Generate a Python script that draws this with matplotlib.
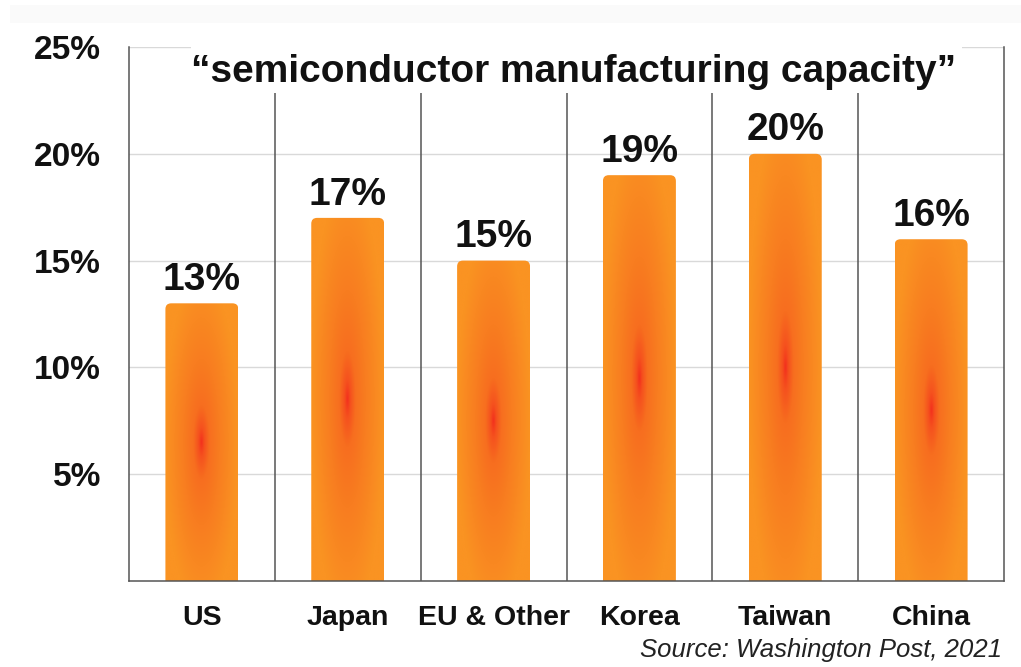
import numpy as np
import matplotlib
matplotlib.use("Agg")
import matplotlib.pyplot as plt
from matplotlib.patches import FancyBboxPatch, Rectangle
from matplotlib.colors import LinearSegmentedColormap

categories = ["US", "Japan", "EU & Other", "Korea", "Taiwan", "China"]
values = [13, 17, 15, 19, 20, 16]
value_labels = ["13%", "17%", "15%", "19%", "20%", "16%"]
yticks = [5, 10, 15, 20, 25]
ytick_labels = ["5%", "10%", "15%", "20%", "25%"]
title = "\u201csemiconductor manufacturing capacity\u201d"
source = "Source: Washington Post, 2021"

plt.rcParams['font.family'] = ['Liberation Sans', 'DejaVu Sans']

fig = plt.figure(figsize=(10.21, 6.67), dpi=100)
fig.patch.set_facecolor("white")
fig.patches.append(Rectangle((0.01, 0.965), 0.99, 0.028, transform=fig.transFigure,
                             facecolor="#fafafa", edgecolor="none", zorder=-10))
ax = fig.add_axes([0.1263, 0.129, 0.8571, 0.8005])
ax.set_xlim(-0.5, len(categories) - 0.5)
ax.set_ylim(0, 25)

# gridlines
for t in yticks:
    ax.axhline(t, color="#d9d9d9", lw=1.0, zorder=0)
# separators
for i in range(1, len(categories)):
    ax.axvline(i - 0.5, color="#555555", lw=1.1, zorder=1)

ax.spines["top"].set_visible(False)
for s in ["left", "right", "bottom"]:
    ax.spines[s].set_color("#555555")
    ax.spines[s].set_linewidth(1.1)

# gradient
cmap = LinearSegmentedColormap.from_list(
    "hot", [(0.0, "#f3301d"), (0.08, "#f5501e"), (0.22, "#f76e1f"),
            (0.5, "#f87d20"), (1.0, "#fa9322")])
nu, nv = 120, 400
u = np.linspace(-1, 1, nu)
v = np.linspace(-1, 1, nv)
U, V = np.meshgrid(u, v)
D = np.clip(np.sqrt(U ** 2 + (V / 1.2) ** 2), 0, 1)

bw = 0.5
for i, val in enumerate(values):
    x0 = i - bw / 2
    patch = FancyBboxPatch((x0, -1), bw, val + 1,
                           boxstyle="round,pad=0,rounding_size=0.04",
                           mutation_aspect=6.8,
                           facecolor="none", edgecolor="none", zorder=2)
    ax.add_patch(patch)
    im = ax.imshow(D, cmap=cmap, vmin=0, vmax=1, extent=(x0, x0 + bw, 0, val),
                   origin="lower", aspect="auto", zorder=2, interpolation="bilinear")
    im.set_clip_path(patch)
    ax.text(i, val + 0.25, value_labels[i], ha="center", va="bottom",
            fontsize=28, fontweight="bold", color="#111111", zorder=4)

# title box covering lines
ax.add_patch(Rectangle((-0.075, 22.85), 5.285, 2.3, facecolor="white",
                       edgecolor="none", zorder=3, clip_on=False))
ax.text(2.55, 23.85, title, ha="center", va="center", fontsize=28,
        fontweight="bold", color="#111111", zorder=4)

ax.set_yticks(yticks)
ax.set_yticklabels(ytick_labels, fontsize=24, fontweight="bold", color="#111111")
ax.set_xticks(range(len(categories)))
ax.set_xticklabels(categories, fontsize=20.5, fontweight="bold", color="#111111")
ax.tick_params(axis="y", length=0, pad=20)
ax.tick_params(axis="x", length=0, pad=17)

fig.text(0.982, 0.008, source, ha="right", va="bottom", fontsize=18.5,
         style="italic", color="#222222")

fig.savefig("out.png", dpi=100)
